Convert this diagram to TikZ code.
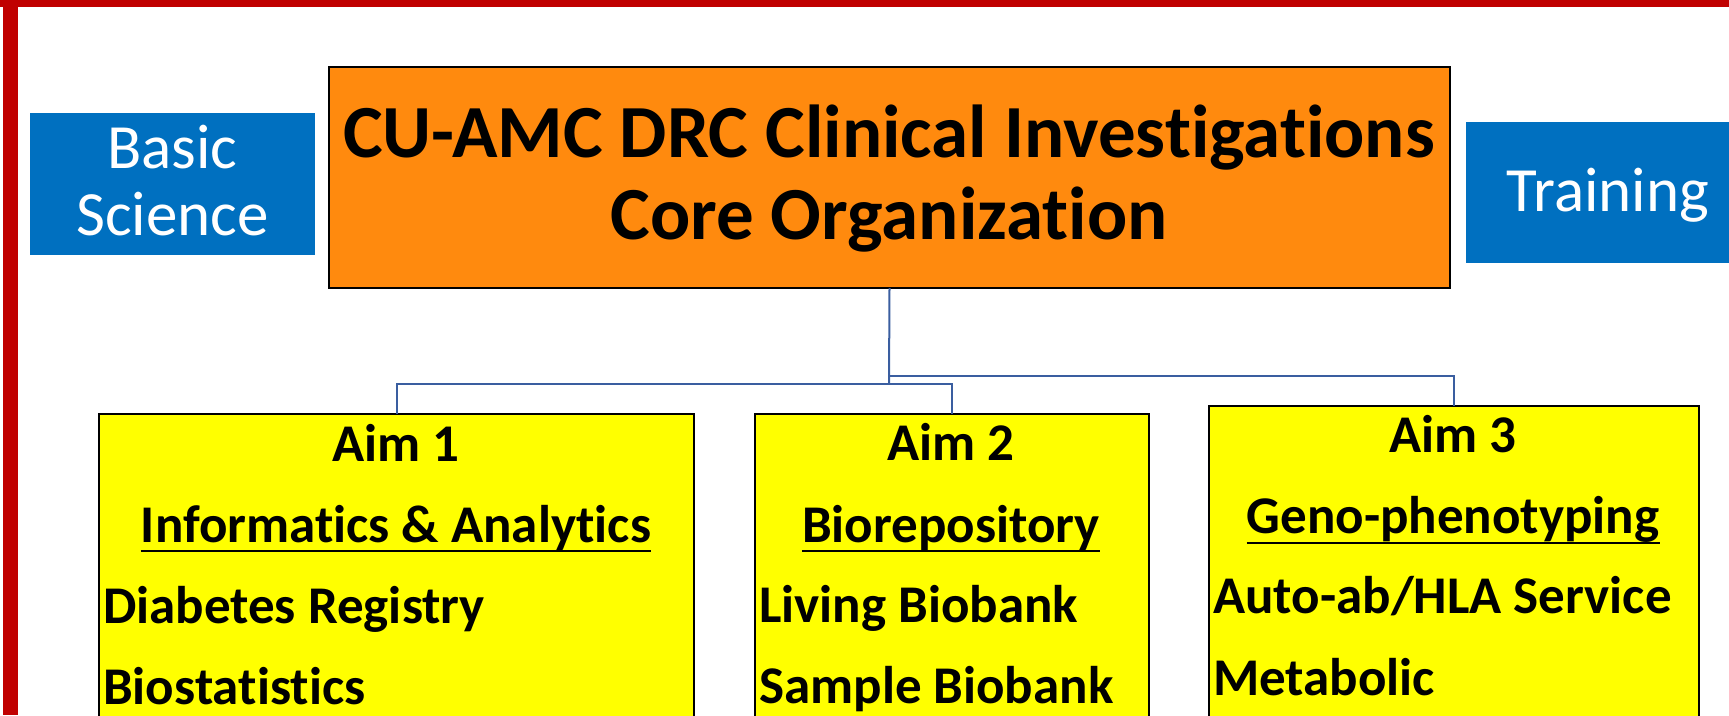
\documentclass[tikz,border=0pt]{standalone}
\usepackage{fontspec}
\setmainfont{Carlito}[Ligatures={NoCommon,NoContextual},RawFeature={-liga;-clig;-calt;-dlig}]
\usetikzlibrary{calc}
\definecolor{frameRed}{RGB}{192,0,0}
\definecolor{coreOrange}{RGB}{255,138,14}
\definecolor{sideBlue}{RGB}{0,112,192}
\definecolor{aimYellow}{RGB}{255,255,0}
\definecolor{linkBlue}{RGB}{58,94,160}
\newcommand\coreTitleFont{\fontsize{75}{80}\selectfont\bfseries}
\newcommand\sideLabelFont{\fontsize{63}{67}\selectfont}
\newcommand\aimTextFont{\fontsize{53}{60}\selectfont\bfseries}
\begin{document}
\begin{tikzpicture}[x=1pt,y=-1pt,
  orgbox/.style={draw=black, anchor=north west, inner sep=0pt, outer sep=0pt},
  corebox/.style={orgbox, fill=coreOrange, line width=2.8pt},
  aimbox/.style={orgbox, fill=aimYellow, line width=2.4pt},
  sidebox/.style={fill=sideBlue, anchor=north west, inner sep=0pt, outer sep=0pt},
  coretext/.style={anchor=base, inner sep=0pt, font=\coreTitleFont},
  sidetext/.style={anchor=base, inner sep=0pt, text=white, font=\sideLabelFont},
  aimhead/.style={anchor=base, inner sep=0pt, font=\aimTextFont},
  aimitem/.style={anchor=base west, inner sep=0pt, font=\aimTextFont},
  uline/.style={line width=2.8pt},
  link/.style={draw=linkBlue, line width=2pt}]
\useasboundingbox (0,0) rectangle (1729,715);
\clip (0,0) rectangle (1729,715);

% outer red frame (top and left edges)
\fill[frameRed] (0,0) rectangle (1729,7);
\fill[frameRed] (3,0) rectangle (18,715);

% side boxes
\node[sidebox, minimum width=285pt, minimum height=142pt] (basic) at (30,113) {};
\node[sidetext] (basicA) at (172.5,168) {Basic};
\node[sidetext] (basicB) at (172.5,235) {Science};

\node[sidebox, minimum width=300pt, minimum height=141pt] (training) at (1466,122) {};
\node[sidetext] (trainingT) at (1608,211) {Training};

% core box
\node[corebox, minimum width=1121pt, minimum height=221pt] (core) at (329,67) {};
\node[coretext] (coreA) at (889,157) {CU-AMC DRC Clinical Investigations};
\node[coretext] (coreB) at (889,239) {Core Organization};

% aim boxes
\node[aimbox, minimum width=595pt, minimum height=400pt] (aim1) at (99,414) {};
\node[aimbox, minimum width=394pt, minimum height=400pt] (aim2) at (755,414) {};
\node[aimbox, minimum width=490pt, minimum height=400pt] (aim3) at (1209,406) {};

% connectors
\coordinate (busL) at (889,384);
\coordinate (busR) at (889,376);
\draw[link] (core.south) -- (busL);
\draw[link] (busL) -| (aim1.north);
\draw[link] (busL) -| (aim2.north);
\draw[link] (busR) -| (aim3.north);

% Aim 1
\node[aimhead] (a1h) at (396,461) {Aim 1};
\node[aimhead] (a1s) at (396,542) {Informatics \& Analytics};
\draw[uline] ([yshift=-9pt]a1s.base west) -- ([yshift=-9pt]a1s.base east);
\node[aimitem] (a1i1) at (103,623) {Diabetes Registry};
\node[aimitem] (a1i2) at (103,704) {Biostatistics};

% Aim 2
\node[aimhead] (a2h) at (951,460) {Aim 2};
\node[aimhead] (a2s) at (951,542) {Biorepository};
\draw[uline] ([yshift=-9pt]a2s.base west) -- ([yshift=-9pt]a2s.base east);
\node[aimitem] (a2i1) at (759,622) {Living Biobank};
\node[aimitem] (a2i2) at (759,703) {Sample Biobank};

% Aim 3
\node[aimhead] (a3h) at (1453,452) {Aim 3};
\node[aimhead] (a3s) at (1453,533) {Geno-phenotyping};
\draw[uline] ([yshift=-10pt]a3s.base west) -- ([yshift=-10pt]a3s.base east);
\node[aimitem] (a3i1) at (1213,613) {Auto-ab/HLA Service};
\node[aimitem] (a3i2) at (1213,695) {Metabolic};
\end{tikzpicture}
\end{document}
